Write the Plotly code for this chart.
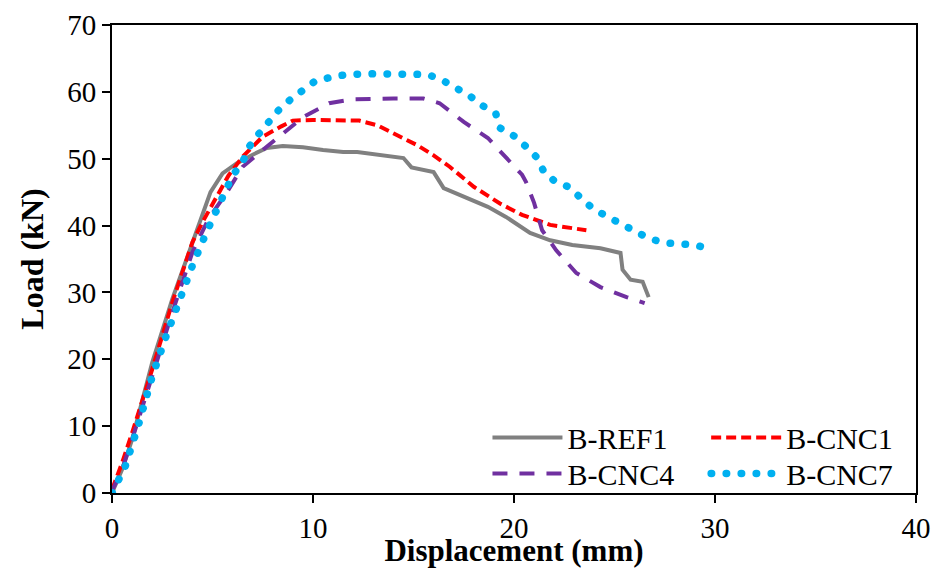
import plotly.graph_objects as go

# ---- data ----
ref1_x = [0, 0.5, 1, 2, 3, 4, 4.9, 5.5, 6.2, 7, 7.7, 8.5, 9.5, 10.5, 11.5, 12.2, 13, 14, 14.5, 14.9,
          16, 16.5, 17.7, 18.7, 19.6, 20.8, 21.8, 22.9, 24.3, 25.3, 25.4, 25.8, 26.4, 26.7]
ref1_y = [0, 3.5, 8, 19.5, 29, 37.5, 45, 47.8, 49.3, 50.6, 51.6, 51.9, 51.7, 51.3, 51.0, 51.0, 50.7,
          50.4, 50.1, 48.7, 48.0, 45.6, 44.1, 42.8, 41.3, 38.9, 37.8, 37.1, 36.6, 35.9, 33.4, 31.9, 31.6, 29.3]

cnc1_x = [0, 0.5, 1, 2, 3, 4, 4.5, 5.2, 5.8, 6.5, 7.5, 8.4, 9, 10, 11, 12.3, 13.2, 14, 15.2, 16,
          16.8, 18, 19.3, 20.4, 21.8, 23.6]
cnc1_y = [0.5, 4.5, 9, 18.5, 28.5, 37.5, 40.5, 44.3, 47.5, 50.3, 53.3, 54.8, 55.7, 55.8, 55.7, 55.7,
          55.0, 53.8, 52.0, 50.5, 48.8, 45.8, 43.3, 41.6, 40.1, 39.3]

cnc4_x = [0, 0.5, 1, 2, 3, 4, 4.8, 5.7, 6.5, 7.5, 8.5, 9.5, 10.8, 12, 14, 15.5, 16.3, 17.5, 18.7,
          19.6, 20.4, 20.6, 21, 21.4, 22.1, 23.1, 24.3, 25.6, 26.5]
cnc4_y = [0.3, 3.5, 8, 17.5, 27, 36, 41, 44.9, 48.8, 51.3, 53.8, 56.2, 58.3, 58.9, 59.0, 59.0, 58.3,
          55.5, 53.1, 50.3, 47.6, 46.5, 43.4, 39.3, 36.3, 32.9, 30.8, 29.3, 28.4]

cnc7_x = [0, 0.65, 1.3, 2, 2.7, 3.3, 4, 4.7, 5.0, 5.6, 6.0, 6.5, 6.8, 7.3, 7.8, 8.3, 8.9, 9.5, 10.1,
          10.9, 11.7, 13, 14, 15.2, 15.7, 16.4, 17.1, 17.8, 18.4, 19.1, 19.3, 20.0, 20.6, 21.1, 21.5,
          22.0, 22.7, 23.3, 23.9, 24.6, 25.3, 26.0, 26.7, 27.5, 28.3, 29.0, 29.8]
cnc7_y = [0, 3.9, 10, 17.4, 23.5, 28.4, 34, 39, 41.1, 45.4, 47.5, 49.5, 51.7, 53.7, 55.5, 57.3, 58.9,
          60.4, 61.6, 62.2, 62.6, 62.7, 62.7, 62.7, 62.6, 61.8, 60.7, 59.4, 58.0, 56.7, 54.6, 53.4,
          51.8, 50.3, 48.0, 46.7, 45.8, 44.1, 42.6, 41.4, 40.4, 39.3, 38.1, 37.4, 37.2, 37.1, 36.5]

x_ticks = [0, 10, 20, 30, 40]
y_ticks = [0, 10, 20, 30, 40, 50, 60, 70]

FONT = "Liberation Serif, Times New Roman, serif"
BLUE = "#00B0F0"

fig = go.Figure()
fig.add_trace(go.Scatter(x=ref1_x, y=ref1_y, mode="lines", name="B-REF1",
                         line=dict(color="#808080", width=4), legend="legend"))
fig.add_trace(go.Scatter(x=cnc1_x, y=cnc1_y, mode="lines", name="B-CNC1",
                         line=dict(color="#FF0000", width=4, dash="10px,5px"), legend="legend2"))
fig.add_trace(go.Scatter(x=cnc4_x, y=cnc4_y, mode="lines", name="B-CNC4",
                         line=dict(color="#7030A0", width=4, dash="15px,12px"), legend="legend3"))
fig.add_trace(go.Scatter(x=cnc7_x, y=cnc7_y, mode="lines", name="B-CNC7",
                         line=dict(color=BLUE, width=7.5, dash="0.5px,14.5px"), legend="legend4"))

axis_common = dict(showline=True, linecolor="black", linewidth=2, mirror=True,
                   ticks="outside", ticklen=8, tickwidth=2, tickcolor="black",
                   showgrid=False, zeroline=False, automargin=False,
                   tickfont=dict(family=FONT, size=29, color="black"))

leg_common = dict(xanchor="left", yanchor="top", bgcolor="rgba(0,0,0,0)", itemwidth=70,
                  tracegroupgap=0, font=dict(family=FONT, size=30, color="black"))

fig.update_layout(
    width=939, height=568,
    margin=dict(l=112, r=23, t=25, b=75, autoexpand=False),
    paper_bgcolor="white", plot_bgcolor="white",
    font=dict(family=FONT, color="black"),
    xaxis=dict(range=[0, 40], tickvals=x_ticks, **axis_common,
               title=dict(text="<b>Displacement (mm)</b>", standoff=2,
                          font=dict(family=FONT, size=31, color="black"))),
    yaxis=dict(range=[0, 70], tickvals=y_ticks, **axis_common,
               title=dict(text="<b>Load (kN)</b>", standoff=14,
                          font=dict(family=FONT, size=32, color="black"))),
    legend=dict(x=0.467, y=0.174, **leg_common),
    legend2=dict(x=0.739, y=0.174, **leg_common),
    legend3=dict(x=0.467, y=0.097, **leg_common),
    legend4=dict(x=0.739, y=0.097, **leg_common),
    showlegend=True,
)

post = """
function roundDots(){
  document.querySelectorAll('path').forEach(function(p){
    if (p.style.stroke === 'rgb(0, 176, 240)') { p.style.strokeLinecap = 'round'; }
  });
}
roundDots();
setTimeout(roundDots, 50);
"""

fig.write_html("out.html", post_script=post)
